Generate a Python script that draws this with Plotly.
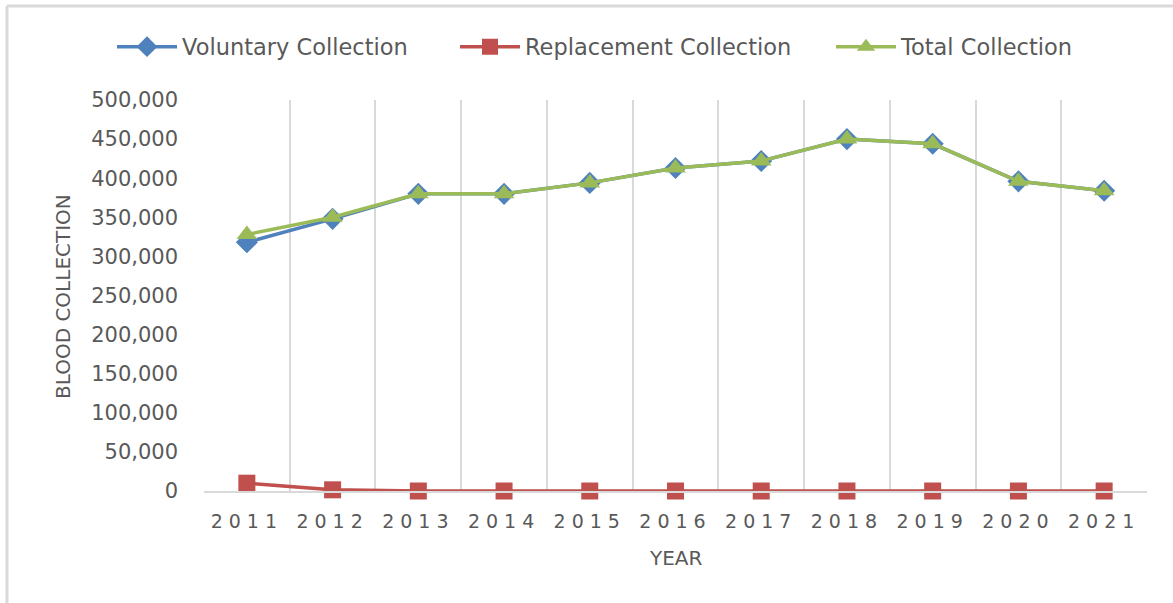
import plotly.graph_objects as go

years = [2011, 2012, 2013, 2014, 2015, 2016, 2017, 2018, 2019, 2020, 2021]
voluntary = [318000, 348000, 380000, 380000, 394000, 413000, 422000, 450000, 444000, 396000, 384000]
replacement = [10000, 1500, 0, 0, 0, 0, 0, 0, 0, 0, 0]
total = [328000, 350000, 380000, 380000, 394000, 413000, 422000, 450000, 444000, 396000, 384000]
y_ticks = [0, 50000, 100000, 150000, 200000, 250000, 300000, 350000, 400000, 450000, 500000]

FONT = "DejaVu Sans"
GREY = "#595959"

fig = go.Figure()
fig.add_trace(go.Scatter(
    x=years, y=voluntary, name="Voluntary Collection", mode="lines+markers",
    line=dict(color="#4F81BD", width=3.5), cliponaxis=False, legend="legend",
    marker=dict(symbol="diamond", size=17, color="#4F81BD")))
fig.add_trace(go.Scatter(
    x=years, y=replacement, name="Replacement Collection", mode="lines+markers",
    line=dict(color="#C0504D", width=3.5), cliponaxis=False, legend="legend2",
    marker=dict(symbol="square", size=17, color="#C0504D")))
fig.add_trace(go.Scatter(
    x=years, y=total, name="Total Collection", mode="lines+markers",
    line=dict(color="#9BBB59", width=3.5), cliponaxis=False, legend="legend3",
    marker=dict(symbol="triangle-up", size=18, color="#9BBB59")))

W, H = 1173, 603
L, R, T, B = 204, 1147, 100, 491
pw, ph = R - L, B - T

def px_x(p):
    return (p - L) / pw

def px_y(p):
    return (B - p) / ph

def leg(px_left):
    return dict(orientation="h", xref="container", yref="container",
                x=px_left / W, xanchor="left",
                y=1 - 47 / H, yanchor="middle",
                bgcolor="rgba(0,0,0,0)",
                font=dict(size=22.5, color=GREY), itemwidth=60)

fig.update_layout(
    width=W, height=H,
    margin=dict(l=L, r=W - R, t=T, b=H - B),
    plot_bgcolor="white", paper_bgcolor="white",
    font=dict(family=FONT, color=GREY, size=20),
    showlegend=True,
    legend=leg(112), legend2=leg(455), legend3=leg(831),
    xaxis=dict(range=[2010.5, 2021.5], tickvals=years,
               ticktext=[str(y) for y in years],
               showgrid=False, zeroline=False, showline=True,
               linecolor="#d9d9d9", linewidth=1.5, ticks="",
               ticklabelstandoff=12,
               tickfont=dict(size=19, color=GREY),
               minor=dict(tick0=2010.5, dtick=1, showgrid=True,
                          gridcolor="#d9d9d9", gridwidth=1.5, ticks="")),
    yaxis=dict(range=[0, 500000], tickvals=y_ticks,
               ticktext=[f"{v:,}" for v in y_ticks],
               showgrid=False, zeroline=False, showline=False, ticks="",
               ticklabelstandoff=25,
               tickfont=dict(size=21, color=GREY)),
    annotations=[
        dict(text="BLOOD COLLECTION", xref="paper", yref="paper",
             x=px_x(63), y=px_y(297), textangle=-90, showarrow=False,
             xanchor="center", yanchor="middle",
             font=dict(size=20, color=GREY)),
        dict(text="YEAR", xref="paper", yref="paper",
             x=px_x(676), y=px_y(558), showarrow=False,
             xanchor="center", yanchor="middle",
             font=dict(size=20, color=GREY)),
    ],
    shapes=[
        dict(type="line", xref="paper", yref="paper",
             x0=px_x(7), x1=px_x(7), y0=px_y(6), y1=px_y(610),
             line=dict(color="#d9d9d9", width=3)),
        dict(type="line", xref="paper", yref="paper",
             x0=px_x(7), x1=px_x(1180), y0=px_y(6), y1=px_y(6),
             line=dict(color="#d9d9d9", width=3)),
    ],
)

post = ("document.body.style.margin='0';document.body.style.overflow='hidden';"
        "document.querySelectorAll('.xtick text').forEach(function(t){t.setAttribute('letter-spacing','6px');});")
fig.write_html("out.html", post_script=post, config={"displayModeBar": False})
